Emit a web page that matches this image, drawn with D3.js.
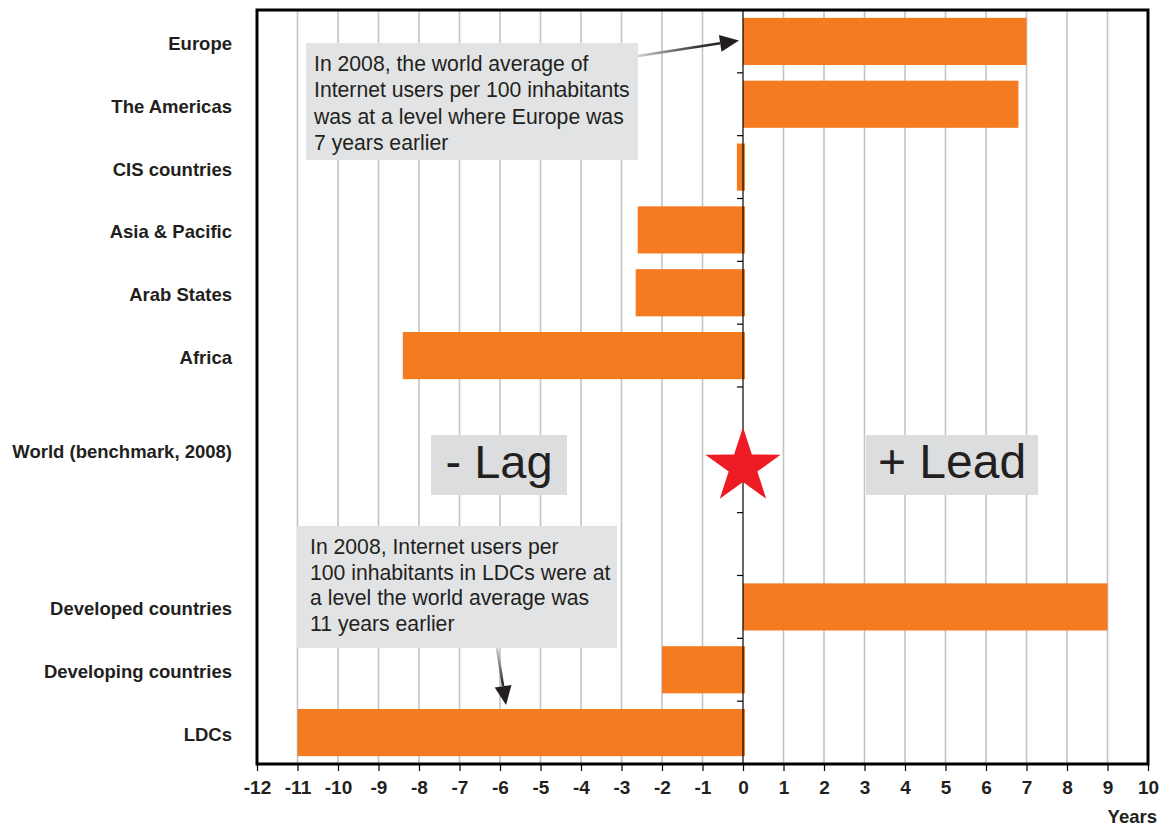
<!DOCTYPE html>
<html>
<head>
<meta charset="utf-8">
<script src="https://cdn.jsdelivr.net/npm/d3@7"></script>
<style>
  html, body { margin: 0; padding: 0; background: #fff; }
  svg { display: block; font-family: "Liberation Sans", Arial, Helvetica, sans-serif; }
</style>
</head>
<body>
<svg id="chart" width="1167" height="830"></svg>
<script>
// ---- data ----
const categories = ["Europe", "The Americas", "CIS countries", "Asia & Pacific", "Arab States", "Africa",
                    "", "", "", "Developed countries", "Developing countries", "LDCs"];
const values = [7, 6.8, -0.15, -2.6, -2.65, -8.4, null, null, null, 9, -2, -11];
const xTicks = [-12, -11, -10, -9, -8, -7, -6, -5, -4, -3, -2, -1, 0, 1, 2, 3, 4, 5, 6, 7, 8, 9, 10];
const benchmarkLabel = "World (benchmark, 2008)";
const note1 = ["In 2008, the world average of", "Internet users per 100 inhabitants",
               "was at a level where Europe was", "7 years earlier"];
const note2 = ["In 2008, Internet users per", "100 inhabitants in LDCs were at",
               "a level the world average was", "11 years earlier"];
const lagText = "- Lag", leadText = "+ Lead", axisTitle = "Years";

// ---- layout ----
const svg = d3.select("#chart");
const L = 257, R = 1148, T = 10, B = 764;
const x = d3.scaleLinear().domain([-12, 10]).range([L, R]);
const y = d3.scaleBand().domain(d3.range(categories.length)).range([T, B]).paddingInner(0.25).paddingOuter(0.125);
const step = y.step();
const textColor = "#231f20";

// grid lines
svg.append("g").selectAll("line").data(xTicks.filter(d => d !== 0 && d !== -12 && d !== 10)).join("line")
  .attr("x1", d => x(d)).attr("x2", d => x(d)).attr("y1", T).attr("y2", B)
  .attr("stroke", "#c3c3c7").attr("stroke-width", 1.6);

// annotation boxes (behind bars)
function noteBox(lines, bx, by, bw, bh, tx, ty0, lh) {
  svg.append("rect").attr("x", bx).attr("y", by).attr("width", bw).attr("height", bh).attr("fill", "#e2e3e4");
  svg.append("g").selectAll("text").data(lines).join("text")
    .attr("x", tx).attr("y", (d, i) => ty0 + i * lh)
    .attr("font-size", 21.2).attr("fill", textColor).text(d => d);
}
noteBox(note1, 306, 43, 332, 117, 314, 71, 26.4);
noteBox(note2, 297, 526, 320, 122, 310, 554, 25.5);

// Lag / Lead boxes
function bigLabel(txt, bx, bw, fs) {
  svg.append("rect").attr("x", bx).attr("y", 435).attr("width", bw).attr("height", 60).attr("fill", "#dcdddf");
  svg.append("text").attr("x", bx + bw / 2).attr("y", 478).attr("text-anchor", "middle")
    .attr("font-size", fs).attr("fill", textColor).text(txt);
}
bigLabel(lagText, 431, 136, 47);
bigLabel(leadText, 866, 172, 48);

// bars
const barData = categories.map((c, i) => ({ c, i, v: values[i] })).filter(d => d.v !== null);
svg.append("g").selectAll("rect").data(barData).join("rect")
  .attr("x", d => x(Math.min(0, d.v)))
  .attr("width", d => Math.abs(x(d.v) - x(0)) + (d.v < 0 ? 2 : 0))
  .attr("y", d => y(d.i)).attr("height", y.bandwidth())
  .attr("fill", "#f47b20");

// zero line + ticks
svg.append("line").attr("x1", x(0)).attr("x2", x(0)).attr("y1", T).attr("y2", B)
  .attr("stroke", "#000").attr("stroke-width", 1.2);
svg.append("g").selectAll("line").data(d3.range(1, categories.length)).join("line")
  .attr("x1", x(0) - 6).attr("x2", x(0)).attr("y1", d => T + d * step).attr("y2", d => T + d * step)
  .attr("stroke", "#000").attr("stroke-width", 1.2);

// star at world benchmark
const starCy = T + 7 * step + 17, starR = 39.5, starr = 15.1;
const starPts = d3.range(10).map(k => {
  const a = -Math.PI / 2 + k * Math.PI / 5, rr = k % 2 ? starr : starR;
  return [x(0) + rr * Math.cos(a), starCy + rr * Math.sin(a)];
});
svg.append("path").attr("d", "M" + starPts.join("L") + "Z").attr("fill", "#ed1c24");

// frame
svg.append("rect").attr("x", L).attr("y", T).attr("width", R - L).attr("height", B - T)
  .attr("fill", "none").attr("stroke", "#000").attr("stroke-width", 3);

// x axis
const xAxis = svg.append("g").attr("transform", `translate(0,${B})`)
  .call(d3.axisBottom(x).tickValues(xTicks).tickSize(7).tickPadding(10).tickFormat(d3.format("d")));
xAxis.select(".domain").remove();
xAxis.selectAll(".tick line").attr("stroke", "#000").attr("stroke-width", 1.2);
xAxis.selectAll(".tick text").attr("font-size", 19).attr("font-weight", "bold").attr("fill", textColor)
  .attr("font-family", "'Liberation Sans', Arial, sans-serif").text(d => d < 0 ? "-" + Math.abs(d) : d);
svg.append("text").attr("x", 1157).attr("y", 823).attr("text-anchor", "end")
  .attr("font-size", 18.5).attr("font-weight", "bold").attr("fill", textColor).text(axisTitle);

// category labels
svg.append("g").selectAll("text").data(categories.map((c, i) => ({ c, i })).filter(d => d.c)).join("text")
  .attr("x", 232).attr("y", d => y(d.i) + y.bandwidth() / 2 + 2).attr("dy", "0.35em")
  .attr("text-anchor", "end").attr("font-size", 18.5).attr("font-weight", "bold").attr("fill", textColor)
  .text(d => d.c);
svg.append("text").attr("x", 232).attr("y", T + 7 * step + 2).attr("dy", "0.35em")
  .attr("text-anchor", "end").attr("font-size", 18.5).attr("font-weight", "bold").attr("fill", textColor)
  .text(benchmarkLabel);

// arrows
const defs = svg.append("defs");
function arrow(id, x1, y1, x2, y2) {
  const g = defs.append("linearGradient").attr("id", id).attr("gradientUnits", "userSpaceOnUse")
    .attr("x1", x1).attr("y1", y1).attr("x2", x2).attr("y2", y2);
  g.append("stop").attr("offset", 0).attr("stop-color", "#d0d0d0");
  g.append("stop").attr("offset", 0.6).attr("stop-color", "#333");
  g.append("stop").attr("offset", 1).attr("stop-color", "#231f20");
  const ang = Math.atan2(y2 - y1, x2 - x1), len = 19, hw = 8.5;
  const bx = x2 - len * Math.cos(ang), by = y2 - len * Math.sin(ang);
  svg.append("line").attr("x1", x1).attr("y1", y1).attr("x2", bx).attr("y2", by)
    .attr("stroke", `url(#${id})`).attr("stroke-width", 2.6);
  const p = [[x2, y2], [bx + hw * Math.sin(ang), by - hw * Math.cos(ang)], [bx - hw * Math.sin(ang), by + hw * Math.cos(ang)]];
  svg.append("path").attr("d", "M" + p.join("L") + "Z").attr("fill", "#231f20");
}
arrow("g1", 638, 56, x(0) - 4, y(0) + y.bandwidth() / 2 - 1);
arrow("g2", 497, 648, x(-5.85), y(11) - 4);
</script>
</body>
</html>
